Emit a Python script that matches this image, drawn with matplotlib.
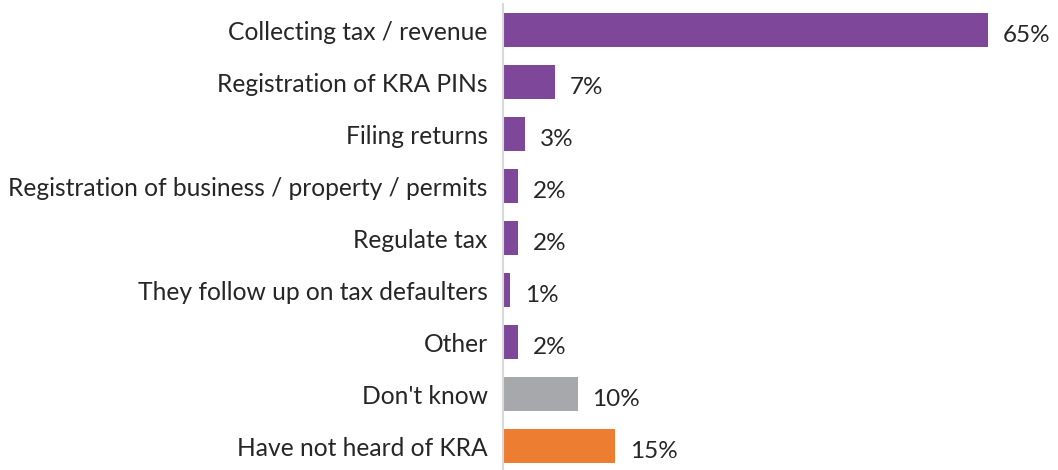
import matplotlib.pyplot as plt

categories = ['Collecting tax / revenue', 'Registration of KRA PINs', 'Filing returns',
              'Registration of business / property / permits', 'Regulate tax',
              'They follow up on tax defaulters', 'Other', "Don't know",
              'Have not heard of KRA']
values = [65, 7, 3, 2, 2, 1, 2, 10, 15]
colors = ['#7E479A'] * 7 + ['#A7A8AB', '#ED7D31']

plt.rcParams['font.family'] = ['Lato', 'DejaVu Sans']

fig = plt.figure(figsize=(10.58, 4.70), dpi=100)
ax = fig.add_axes([503 / 1058, 0, 555 / 1058, 466 / 470])

y = list(range(len(categories)))
ax.barh(y, values, height=0.65, color=colors)
ax.set_xlim(0, 555 / 7.46)
ax.set_ylim(8.46, -0.5)

for yi, v in zip(y, values):
    ax.text(v + 2.0, yi + 0.11, f'{v}%', va='center', ha='left', fontsize=17.5, color='#262626')

ax.set_yticks(y)
ax.set_yticklabels(categories, fontsize=17.7, color='#262626')
ax.tick_params(axis='y', length=0, pad=11)
ax.set_xticks([])
for s in ['top', 'right', 'bottom']:
    ax.spines[s].set_visible(False)
ax.spines['left'].set_color('#D9D9D9')
ax.spines['left'].set_linewidth(1.5)

fig.savefig('out.png', dpi=100)
